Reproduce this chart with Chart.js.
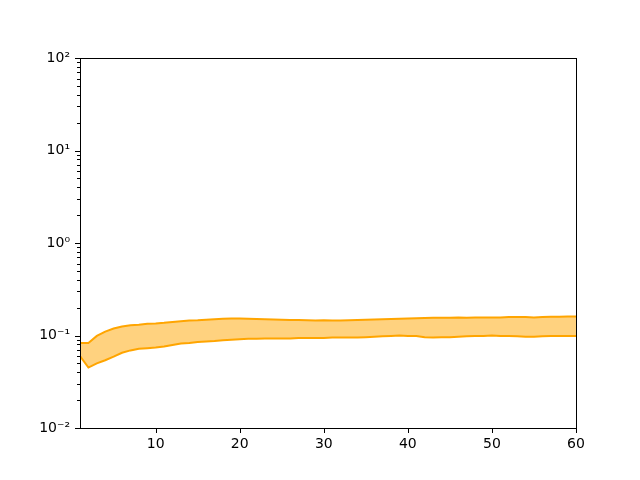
<!DOCTYPE html>
<html>
<head>
<meta charset="utf-8">
<script src="https://cdn.jsdelivr.net/npm/chart.js@4.4.1/dist/chart.umd.min.js"></script>
<style>
html,body{margin:0;padding:0;background:#fff;}
#wrap{width:640px;height:480px;}
</style>
</head>
<body>
<div id="wrap"><canvas id="c" width="640" height="480"></canvas></div>
<script>
const xValues = Array.from({length: 60}, (_, i) => i + 1);
const upperValues = [0.083,0.083,0.099,0.110,0.119,0.125,0.129,0.131,0.134,0.135,
  0.137,0.140,0.143,0.145,0.146,0.148,0.150,0.152,0.153,0.153,
  0.152,0.151,0.150,0.149,0.148,0.147,0.147,0.146,0.145,0.146,
  0.145,0.145,0.146,0.147,0.148,0.149,0.150,0.151,0.152,0.153,
  0.154,0.155,0.156,0.156,0.156,0.157,0.156,0.157,0.157,0.157,
  0.157,0.158,0.158,0.158,0.157,0.158,0.159,0.159,0.160,0.160];
const lowerValues = [0.060,0.045,0.050,0.054,0.059,0.065,0.069,0.072,0.073,0.074,
  0.076,0.079,0.082,0.083,0.085,0.086,0.087,0.089,0.090,0.091,
  0.092,0.092,0.093,0.093,0.093,0.093,0.094,0.094,0.094,0.094,
  0.095,0.095,0.095,0.095,0.096,0.097,0.098,0.099,0.100,0.099,
  0.099,0.096,0.095,0.096,0.096,0.097,0.098,0.099,0.099,0.100,
  0.099,0.099,0.098,0.097,0.097,0.098,0.099,0.099,0.099,0.099];
const xTicks = [10, 20, 30, 40, 50, 60];
const yMajorTicks = [0.01, 0.1, 1, 10, 100];
const yTickLabels = ['10\u207B\u00B2', '10\u207B\u00B9', '10\u2070', '10\u00B9', '10\u00B2'];

const yAllTicks = [];
for (let d = 0; d < yMajorTicks.length; d++) {
  const base = yMajorTicks[d];
  for (let m = 1; m <= 9; m++) {
    if (d === yMajorTicks.length - 1 && m > 1) break;
    yAllTicks.push({v: +(base * m).toPrecision(3), major: m === 1});
  }
}

const FONT = {family: 'DejaVu Sans', size: 14};

const tickPlugin = {
  id: 'mplTicks',
  afterDraw(chart) {
    const ctx = chart.ctx;
    const a = chart.chartArea;
    const xs = chart.scales.x, ys = chart.scales.y;
    ctx.save();
    ctx.strokeStyle = '#000';
    ctx.lineWidth = 1;
    ctx.strokeRect(Math.round(a.left) + 0.5, Math.round(a.top) + 0.5,
      Math.round(a.right - a.left), Math.round(a.bottom - a.top));
    ctx.beginPath();
    xTicks.forEach(v => {
      const px = Math.round(xs.getPixelForValue(v)) + 0.5;
      ctx.moveTo(px, a.bottom);
      ctx.lineTo(px, a.bottom + 5);
    });
    yAllTicks.forEach(t => {
      const py = Math.round(ys.getPixelForValue(t.v)) + 0.5;
      ctx.moveTo(a.left, py);
      ctx.lineTo(a.left - (t.major ? 5 : 3), py);
    });
    ctx.stroke();
    ctx.restore();
  }
};

new Chart(document.getElementById('c'), {
  type: 'line',
  data: {
    labels: xValues,
    datasets: [
      {
        label: 'lower',
        data: lowerValues,
        borderColor: '#FFA500',
        borderWidth: 2,
        pointRadius: 0,
        fill: false,
        tension: 0
      },
      {
        label: 'upper',
        data: upperValues,
        borderColor: '#FFA500',
        borderWidth: 2,
        pointRadius: 0,
        backgroundColor: 'rgba(255,165,0,0.5)',
        fill: '-1',
        tension: 0
      }
    ]
  },
  options: {
    responsive: false,
    animation: false,
    devicePixelRatio: 1,
    layout: {padding: {top: 58, right: 64, left: 0, bottom: 0}},
    plugins: {legend: {display: false}, tooltip: {enabled: false}},
    scales: {
      x: {
        type: 'linear',
        min: 1,
        max: 60,
        grid: {display: false, drawTicks: false},
        border: {display: false},
        afterBuildTicks: s => { s.ticks = xTicks.map(v => ({value: v})); },
        afterFit: s => { s.height = 52; },
        ticks: {color: '#000', font: FONT, padding: 8, autoSkip: false, maxRotation: 0,
          callback: v => String(v)}
      },
      y: {
        type: 'logarithmic',
        min: 0.01,
        max: 100,
        grid: {display: false, drawTicks: false},
        border: {display: false},
        afterBuildTicks: s => { s.ticks = yMajorTicks.map(v => ({value: v, major: true})); },
        afterFit: s => { s.width = 80; },
        ticks: {color: '#000', font: FONT, padding: 10, autoSkip: false,
          callback: (v) => {
            const i = yMajorTicks.findIndex(m => Math.abs(m - v) / m < 1e-6);
            return i >= 0 ? yTickLabels[i] : '';
          }}
      }
    }
  },
  plugins: [tickPlugin]
});
</script>
</body>
</html>
